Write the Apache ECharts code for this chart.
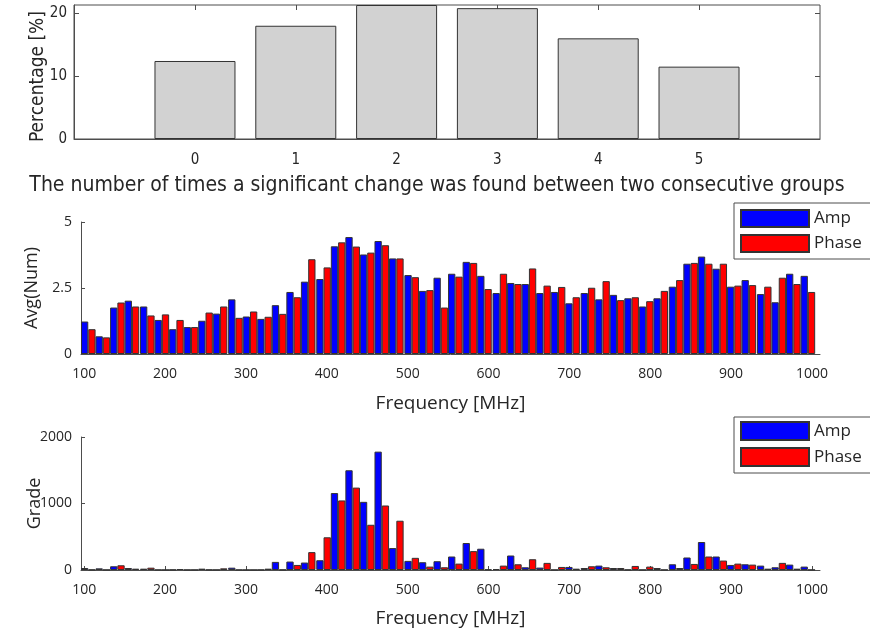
<!DOCTYPE html>
<html>
<head>
<meta charset="utf-8">
<script src="https://cdn.jsdelivr.net/npm/echarts@6/dist/echarts.min.js"></script>
<style>
html,body{margin:0;padding:0;background:#fff;}
#chart{width:870px;height:631px;}
</style>
</head>
<body>
<div id="chart"></div>
<script>
// ---------- data ----------
const pctCategories = [0, 1, 2, 3, 4, 5];
const pctValues = [12.4, 18.0, 21.3, 20.8, 16.0, 11.5];
const pctTicks = [0, 10, 20];

const freqs = [105,123,141,159,178,196,214,232,250,268,287,305,323,341,359,377,396,414,432,450,
  468,486,505,523,541,559,577,595,614,632,650,668,686,704,723,741,759,777,795,813,
  832,850,868,886,904,922,941,959,977,995];
const freqTicks = [100,200,300,400,500,600,700,800,900,1000];

const avgAmp = [1.23,0.67,1.76,2.02,1.80,1.29,0.94,1.02,1.26,1.53,
  2.07,1.42,1.33,1.85,2.35,2.74,2.84,4.08,4.43,3.77,
  4.28,3.62,2.99,2.39,2.89,3.04,3.49,2.96,2.31,2.69,
  2.65,2.31,2.35,1.92,2.31,2.07,2.24,2.11,1.80,2.11,
  2.55,3.42,3.69,3.23,2.55,2.80,2.27,1.96,3.04,2.96];
const avgPhase = [0.94,0.63,1.95,1.80,1.46,1.50,1.29,1.02,1.57,1.80,
  1.37,1.61,1.41,1.52,2.15,3.59,3.28,4.23,4.07,3.84,
  4.12,3.62,2.91,2.42,1.76,2.93,3.45,2.46,3.04,2.65,
  3.24,2.59,2.54,2.15,2.51,2.76,2.04,2.15,2.00,2.39,
  2.80,3.45,3.42,3.42,2.59,2.61,2.55,2.89,2.65,2.35];
const avgTicks = [0, 2.5, 5];

const gradeAmp = [30,25,56,30,20,3,5,3,20,3,
  35,2,3,122,127,112,147,1157,1500,1025,
  1780,330,137,117,132,203,406,320,15,218,
  41,36,3,46,30,66,30,5,3,30,
  86,188,421,203,76,86,66,41,81,51];
const gradePhase = [5,3,71,20,35,2,15,3,5,25,
  3,2,20,5,76,269,492,1046,1239,680,
  970,741,183,51,41,96,284,8,66,86,
  162,107,46,20,56,41,30,61,51,3,
  30,91,203,142,96,81,20,107,20,3];
const gradeTicks = [0, 1000, 2000];

// ---------- chart ----------
const AX = '#4d4d4d';
const TXT = '#262626';
const F1 = '"Liberation Sans Narrow", "DejaVu Sans Condensed", sans-serif';
const F2 = '"Open Sans", "Noto Sans", sans-serif';
const plain = (v) => String(v);

function pairs(xs, ys){ return xs.map((x,i)=>[x, ys[i]]); }

const chart = echarts.init(document.getElementById('chart'), null, {renderer:'canvas'});

const freqX = (gi, gap) => ({
  type:'value', gridIndex:gi, min:96, max:1010,
  axisLine:{show:true, onZero:false, lineStyle:{color:AX, width:1}},
  axisTick:{show:true, inside:true, length:4, customValues:freqTicks, lineStyle:{color:AX}},
  axisLabel:{show:true, customValues:freqTicks, margin:13, fontFamily:F2, fontSize:14, color:TXT, formatter:plain},
  splitLine:{show:false},
  name:'Frequency [MHz]', nameLocation:'middle', nameGap:gap,
  nameTextStyle:{fontFamily:F2, fontSize:19, color:TXT}
});

const barStyle = (c) => ({color:c, borderColor:'#333', borderWidth:1});

const option = {
  animation:false,
  backgroundColor:'#fff',
  grid:[
    {left:74, right:50, top:5, bottom:492, show:true, borderColor:AX, borderWidth:1, backgroundColor:'transparent', outerBoundsMode:'none', containLabel:false},
    {left:81, right:50, top:222, bottom:277, outerBoundsMode:'none', containLabel:false},
    {left:81, right:50, top:437, bottom:61, outerBoundsMode:'none', containLabel:false}
  ],
  legend:[
    {data:['Amp','Phase'], orient:'vertical', left:734, top:203, itemWidth:68, itemHeight:17, itemGap:6,
     padding:[6,60,6,6], borderColor:AX, borderWidth:1, textStyle:{fontFamily:F2, fontSize:17, color:TXT},
     icon:'rect', selectedMode:false},
    {data:['Amp','Phase'], orient:'vertical', left:734, top:417, itemWidth:68, itemHeight:18, itemGap:6,
     padding:[4,60,6,6], borderColor:AX, borderWidth:1, textStyle:{fontFamily:F2, fontSize:17, color:TXT},
     icon:'rect', selectedMode:false}
  ],
  xAxis:[
    {type:'value', gridIndex:0, min:-1.2, max:6.2,
     axisLine:{show:true, onZero:false, lineStyle:{color:AX}},
     axisTick:{show:true, inside:true, length:5, customValues:pctCategories, lineStyle:{color:AX}},
     axisLabel:{show:true, customValues:pctCategories, margin:14, fontFamily:F1, fontSize:15, color:TXT},
     splitLine:{show:false},
     name:'The number of times a significant change was found between two consecutive groups',
     nameLocation:'middle', nameGap:36,
     nameTextStyle:{fontFamily:F1, fontSize:21, color:TXT, padding:[0,20,0,0]}},
    {type:'value', gridIndex:0, position:'top', min:-1.2, max:6.2,
     axisLine:{show:false, onZero:false},
     axisTick:{show:true, inside:true, length:5, customValues:pctCategories, lineStyle:{color:AX}},
     axisLabel:{show:false}, splitLine:{show:false}},
    freqX(1, 40),
    freqX(2, 39)
  ],
  yAxis:[
    {type:'value', gridIndex:0, min:0, max:21.3,
     axisLine:{show:true, onZero:false, lineStyle:{color:AX}},
     axisTick:{show:true, inside:true, length:5, customValues:pctTicks, lineStyle:{color:AX}},
     axisLabel:{show:true, customValues:pctTicks, margin:7, fontFamily:F1, fontSize:15, color:TXT},
     splitLine:{show:false},
     name:'Percentage [%]', nameLocation:'middle', nameGap:26, nameMoveOverlap:false,
     nameTextStyle:{fontFamily:F1, fontSize:19, color:TXT, padding:[0,9,0,0]}},
    {type:'value', gridIndex:0, position:'right', min:0, max:21.3,
     axisLine:{show:false, onZero:false},
     axisTick:{show:true, inside:true, length:5, customValues:pctTicks, lineStyle:{color:AX}},
     axisLabel:{show:false}, splitLine:{show:false}},
    {type:'value', gridIndex:1, min:0, max:5, interval:2.5,
     axisLine:{show:true, onZero:false, lineStyle:{color:AX}},
     axisTick:{show:true, inside:true, length:4, lineStyle:{color:AX}},
     axisLabel:{show:true, margin:9, fontFamily:F2, fontSize:14, color:TXT, formatter:plain},
     splitLine:{show:false},
     name:'Avg(Num)', nameLocation:'middle', nameGap:40,
     nameTextStyle:{fontFamily:F2, fontSize:18, color:TXT}},
    {type:'value', gridIndex:2, min:0, max:2000, interval:1000,
     axisLine:{show:true, onZero:false, lineStyle:{color:AX}},
     axisTick:{show:true, inside:true, length:4, lineStyle:{color:AX}},
     axisLabel:{show:true, margin:9, fontFamily:F2, fontSize:14, color:TXT, formatter:plain},
     splitLine:{show:false},
     name:'Grade', nameLocation:'middle', nameGap:37, nameMoveOverlap:false,
     nameTextStyle:{fontFamily:F2, fontSize:18, color:TXT}}
  ],
  series:[
    {type:'bar', name:'pct', xAxisIndex:0, yAxisIndex:0, barWidth:81,
     data:pairs(pctCategories, pctValues), itemStyle:{color:'#d2d2d2', borderColor:'#333', borderWidth:1}},
    {type:'bar', name:'Amp', xAxisIndex:2, yAxisIndex:2, barWidth:7.3, barGap:'0%',
     data:pairs(freqs, avgAmp), itemStyle:barStyle('#0000ff')},
    {type:'bar', name:'Phase', xAxisIndex:2, yAxisIndex:2, barWidth:7.3, barGap:'0%',
     data:pairs(freqs, avgPhase), itemStyle:barStyle('#ff0000')},
    {type:'bar', name:'Amp', xAxisIndex:3, yAxisIndex:3, barWidth:7.3, barGap:'0%',
     data:pairs(freqs, gradeAmp), itemStyle:barStyle('#0000ff')},
    {type:'bar', name:'Phase', xAxisIndex:3, yAxisIndex:3, barWidth:7.3, barGap:'0%',
     data:pairs(freqs, gradePhase), itemStyle:barStyle('#ff0000')}
  ]
};
chart.setOption(option);
</script>
</body>
</html>
